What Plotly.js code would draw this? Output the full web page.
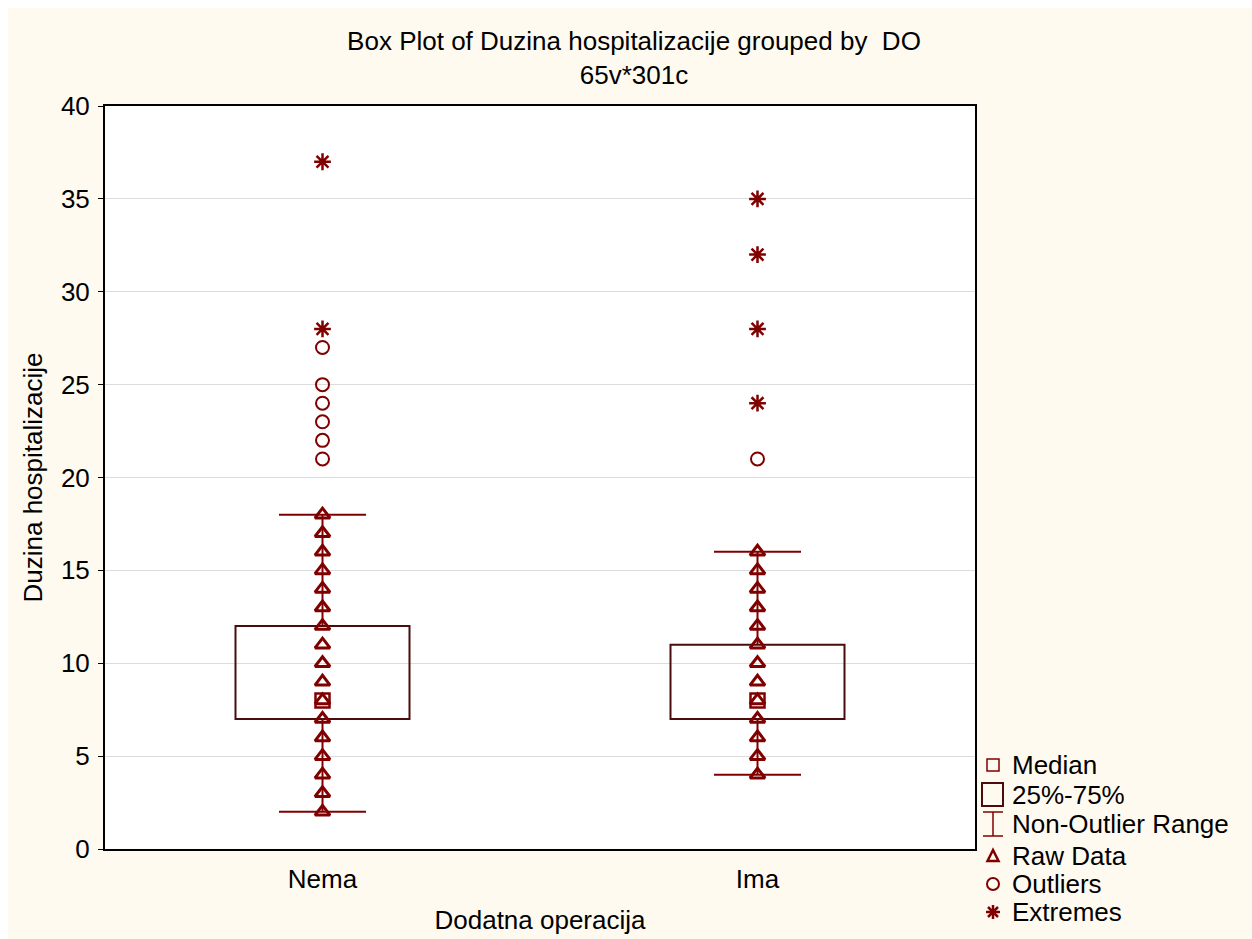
<!DOCTYPE html>
<html>
<head>
<meta charset="utf-8">
<script src="https://cdn.plot.ly/plotly-3.0.1.min.js"></script>
<style>html,body{margin:0;padding:0;background:#fff;}#chart{width:1252px;height:939px;}</style>
</head>
<body>
<div id="chart"></div>
<script>
// ---- data ----
const categories = ['Nema', 'Ima'];
const medians = [8, 8];
const q1 = [7, 7];
const q3 = [12, 11];
const lowerWhisker = [2, 4];
const upperWhisker = [18, 16];
const nemaRaw = [2, 3, 4, 5, 6, 7, 8, 9, 10, 11, 12, 13, 14, 15, 16, 17, 18];
const imaRaw = [4, 5, 6, 7, 8, 9, 10, 11, 12, 13, 14, 15, 16];
const nemaOutliers = [21, 22, 23, 24, 25, 27];
const imaOutliers = [21];
const nemaExtremes = [28, 37];
const imaExtremes = [24, 28, 32, 35];
const yTicks = [0, 5, 10, 15, 20, 25, 30, 35, 40];
const legendLabels = ['Median', '25%-75%', 'Non-Outlier Range', 'Raw Data', 'Outliers', 'Extremes'];

// ---- styles ----
const RED = '#800000';
const BOXC = '#4a0c0c';
const FONT = 'Liberation Sans, Arial, sans-serif';
const FS = 26;
const boxWidth = 0.4;
const capHalf = 0.1;

const idx = categories.map((c, i) => i);
const rep = (i, arr) => arr.map(() => i);

const traces = [];
// boxes (25%-75%)
traces.push({
  type: 'bar', x: idx, base: q1, y: idx.map(i => q3[i] - q1[i]), width: boxWidth,
  marker: {color: 'rgba(255,255,255,0)', line: {color: BOXC, width: 2}},
  hoverinfo: 'skip', showlegend: false
});
// whisker lines + caps
const wx = [], wy = [];
idx.forEach(i => {
  wx.push(i, i, null, i, i, null, i - capHalf, i + capHalf, null, i - capHalf, i + capHalf, null);
  wy.push(q3[i], upperWhisker[i], null, q1[i], lowerWhisker[i], null, upperWhisker[i], upperWhisker[i], null, lowerWhisker[i], lowerWhisker[i], null);
});
traces.push({type: 'scatter', mode: 'lines', x: wx, y: wy, line: {color: RED, width: 2}, hoverinfo: 'skip', showlegend: false});
// raw data
const raws = [nemaRaw, imaRaw];
traces.push({
  type: 'scatter', mode: 'markers',
  x: [].concat(...idx.map(i => rep(i, raws[i]))), y: [].concat(...raws),
  marker: {symbol: 'triangle-up-open', size: 13, color: RED, line: {width: 3, color: RED}},
  showlegend: false
});
// medians
traces.push({
  type: 'scatter', mode: 'markers', x: idx, y: medians,
  marker: {symbol: 'square-open', size: 14, color: RED, line: {width: 2.5, color: RED}}, showlegend: false
});
// outliers
const outs = [nemaOutliers, imaOutliers];
traces.push({
  type: 'scatter', mode: 'markers',
  x: [].concat(...idx.map(i => rep(i, outs[i]))), y: [].concat(...outs),
  marker: {symbol: 'circle-open', size: 13, color: RED, line: {width: 2, color: RED}}, showlegend: false
});
// extremes
const exts = [nemaExtremes, imaExtremes];
traces.push({type: 'scatter', mode: 'markers',
  x: [].concat(...idx.map(i => rep(i, exts[i]))), y: [].concat(...exts),
  marker: {symbol: 'asterisk-open', size: 14, color: RED, line: {width: 2.5, color: RED}}, showlegend: false});

// ---- pixel helpers for decorations outside the plot ----
const L = 105, R = 975, T = 106, B = 849;
const PX = p => (p - L) / (R - L);
const PY = p => (B - p) / (B - T);

const shapes = [
  // white outer border strips (top & left)
  {type: 'rect', xref: 'paper', yref: 'paper', x0: PX(0), x1: PX(1252), y0: PY(0), y1: PY(8), fillcolor: '#ffffff', line: {width: 0}, layer: 'below'},
  {type: 'rect', xref: 'paper', yref: 'paper', x0: PX(0), x1: PX(8), y0: PY(0), y1: PY(939), fillcolor: '#ffffff', line: {width: 0}, layer: 'below'},
];
// legend glyphs
const lgY = [765, 794.5, 824, 856, 884, 912];
const lgX = 993;
shapes.push({type: 'rect', xref: 'paper', yref: 'paper', x0: PX(987), x1: PX(999), y0: PY(lgY[0] - 6), y1: PY(lgY[0] + 6), line: {color: RED, width: 1.5}});
shapes.push({type: 'rect', xref: 'paper', yref: 'paper', x0: PX(982), x1: PX(1003), y0: PY(lgY[1] - 11.5), y1: PY(lgY[1] + 11.5), line: {color: BOXC, width: 2}});
shapes.push({type: 'line', xref: 'paper', yref: 'paper', x0: PX(lgX), x1: PX(lgX), y0: PY(lgY[2] - 12), y1: PY(lgY[2] + 12), line: {color: RED, width: 1.5}});
shapes.push({type: 'line', xref: 'paper', yref: 'paper', x0: PX(983), x1: PX(1003), y0: PY(lgY[2] - 12), y1: PY(lgY[2] - 12), line: {color: RED, width: 1.5}});
shapes.push({type: 'line', xref: 'paper', yref: 'paper', x0: PX(983), x1: PX(1003), y0: PY(lgY[2] + 12), y1: PY(lgY[2] + 12), line: {color: RED, width: 1.5}});
shapes.push({type: 'path', xref: 'paper', yref: 'paper',
  path: `M ${PX(987.5)} ${PY(lgY[3] + 5)} L ${PX(lgX)} ${PY(lgY[3] - 6)} L ${PX(998.5)} ${PY(lgY[3] + 5)} Z`, line: {color: RED, width: 2.5}});
shapes.push({type: 'circle', xref: 'paper', yref: 'paper', x0: PX(987), x1: PX(999), y0: PY(lgY[4] - 6), y1: PY(lgY[4] + 6), line: {color: RED, width: 2}});
shapes.push({type: 'line', xref: 'paper', yref: 'paper', x0: PX(lgX), x1: PX(lgX), y0: PY(lgY[5] - 7), y1: PY(lgY[5] + 7), line: {color: RED, width: 2.5}});
shapes.push({type: 'line', xref: 'paper', yref: 'paper', x0: PX(986), x1: PX(1000), y0: PY(lgY[5]), y1: PY(lgY[5]), line: {color: RED, width: 2.5}});
shapes.push({type: 'line', xref: 'paper', yref: 'paper', x0: PX(988), x1: PX(998), y0: PY(lgY[5] - 5), y1: PY(lgY[5] + 5), line: {color: RED, width: 2.5}});
shapes.push({type: 'line', xref: 'paper', yref: 'paper', x0: PX(988), x1: PX(998), y0: PY(lgY[5] + 5), y1: PY(lgY[5] - 5), line: {color: RED, width: 2.5}});

const annotations = legendLabels.map((t, i) => ({
  text: t, xref: 'paper', yref: 'paper', x: PX(1010), y: PY(lgY[i]), xanchor: 'left', yanchor: 'middle',
  showarrow: false, font: {family: FONT, size: FS, color: '#000'}
}));

const layout = {
  width: 1252, height: 939,
  margin: {l: L, r: 1252 - R, t: T, b: 939 - B},
  paper_bgcolor: '#fffaf0',
  plot_bgcolor: '#ffffff',
  font: {family: FONT, size: FS, color: '#000'},
  title: {
    text: 'Box Plot of Duzina hospitalizacije grouped by  DO<br>65v*301c',
    x: 634 / 1252, xanchor: 'center', xref: 'container', y: 1 - 50 / 939, yanchor: 'top', yref: 'container',
    font: {family: FONT, size: FS, color: '#000'}
  },
  showlegend: false,
  bargap: 0,
  xaxis: {
    range: [-0.5, 1.5], tickvals: idx, ticktext: categories, showgrid: false, zeroline: false,
    showline: true, mirror: true, linecolor: '#000', linewidth: 2, ticks: '', ticklabelstandoff: 6,
    title: {text: 'Dodatna operacija', font: {family: FONT, size: FS}, standoff: 18}, automargin: false,
    fixedrange: true
  },
  yaxis: {
    range: [0, 40], tickvals: yTicks, showgrid: true, gridcolor: '#dcdcdc', gridwidth: 1, zeroline: false,
    showline: true, mirror: true, linecolor: '#000', linewidth: 2, ticks: 'outside', ticklen: 5, tickwidth: 1,
    tickcolor: '#000', ticklabelstandoff: 3,
    title: {text: 'Duzina hospitalizacije', font: {family: FONT, size: FS}, standoff: 11}, automargin: false,
    fixedrange: true
  },
  shapes: shapes,
  annotations: annotations
};

Plotly.newPlot('chart', traces, layout, {displayModeBar: false, staticPlot: true});
</script>
</body>
</html>
